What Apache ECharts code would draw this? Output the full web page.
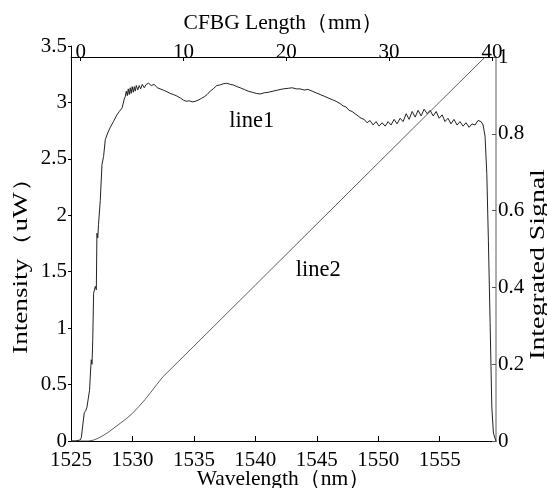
<!DOCTYPE html>
<html>
<head>
<meta charset="utf-8">
<script src="https://cdn.jsdelivr.net/npm/echarts@6/dist/echarts.min.js"></script>
<style>html,body{margin:0;padding:0;background:#fff;}#c{width:547px;height:488px;}</style>
</head>
<body>
<div id="c"></div>
<script>
// Wavelength (nm) and intensity (uW) of line1
var line1Wavelength = [1525.00,1525.35,1525.76,1525.84,1525.98,1526.08,1526.20,1526.30,1526.41,1526.51,1526.59,1526.65,1526.71,1526.77,1526.84,1526.98,1527.06,1527.11,1527.18,1527.24,1527.38,1527.52,1527.65,1527.79,1527.99,1528.20,1528.45,1528.74,1528.93,1529.15,1529.25,1529.33,1529.41,1529.50,1529.58,1529.66,1529.74,1529.82,1529.90,1529.98,1530.07,1530.15,1530.23,1530.31,1530.43,1530.55,1530.67,1530.80,1530.96,1531.12,1531.31,1531.53,1531.77,1532.02,1532.26,1532.50,1532.80,1533.07,1533.32,1533.56,1533.89,1534.15,1534.37,1534.62,1534.86,1535.11,1535.35,1535.60,1535.84,1536.08,1536.33,1536.57,1536.87,1537.14,1537.38,1537.68,1537.95,1538.20,1538.50,1538.76,1539.09,1539.41,1539.74,1540.07,1540.39,1540.72,1541.04,1541.45,1541.85,1542.26,1542.67,1542.99,1543.32,1543.64,1543.97,1544.29,1544.62,1544.94,1545.27,1545.60,1545.92,1546.25,1546.57,1546.89,1547.13,1547.38,1547.62,1547.87,1548.11,1548.36,1548.60,1548.85,1549.09,1549.33,1549.58,1549.82,1550.07,1550.31,1550.56,1550.80,1551.04,1551.29,1551.53,1551.78,1552.02,1552.27,1552.51,1552.76,1553.00,1553.24,1553.49,1553.73,1553.98,1554.22,1554.47,1554.71,1554.96,1555.20,1555.43,1555.67,1555.92,1556.16,1556.41,1556.65,1556.90,1557.14,1557.39,1557.63,1557.87,1558.12,1558.37,1558.53,1558.69,1558.83,1558.96,1559.10,1559.24,1559.37,1559.51,1559.58];
var line1Intensity = [0,0,0.01,0.03,0.16,0.25,0.27,0.30,0.38,0.45,0.62,0.72,0.68,0.90,1.31,1.37,1.34,1.84,1.80,1.92,2.13,2.45,2.52,2.67,2.73,2.78,2.83,2.89,2.92,2.95,2.99,3.03,3.05,3.10,3.06,3.12,3.07,3.13,3.08,3.14,3.09,3.14,3.10,3.15,3.11,3.15,3.12,3.16,3.13,3.16,3.17,3.15,3.16,3.13,3.12,3.11,3.095,3.08,3.07,3.06,3.04,3.02,3.01,3.015,3.005,3.01,3.02,3.035,3.05,3.07,3.10,3.12,3.15,3.155,3.165,3.17,3.16,3.155,3.14,3.13,3.115,3.10,3.09,3.08,3.075,3.085,3.09,3.10,3.11,3.12,3.125,3.13,3.12,3.12,3.11,3.115,3.10,3.085,3.07,3.055,3.04,3.025,3.01,2.99,2.97,2.96,2.93,2.92,2.90,2.88,2.86,2.85,2.82,2.84,2.80,2.83,2.79,2.82,2.79,2.83,2.80,2.85,2.81,2.86,2.83,2.90,2.85,2.92,2.87,2.93,2.88,2.94,2.90,2.93,2.88,2.92,2.86,2.89,2.83,2.86,2.81,2.85,2.80,2.83,2.79,2.82,2.78,2.81,2.80,2.84,2.83,2.80,2.70,2.37,1.78,1.05,0.30,0.07,0.02,0];

// Wavelength (nm) and integrated signal of line2
var line2Wavelength = [1525.0,1526.4,1526.8,1527.2,1527.6,1528.0,1528.5,1529.0,1529.5,1530.0,1530.5,1531.0,1531.5,1532.0,1532.5,1535.0,1540.0,1545.0,1550.0,1555.0,1558.7];
var line2Signal = [0,0,0.002,0.007,0.014,0.022,0.034,0.046,0.058,0.072,0.089,0.107,0.127,0.148,0.168,0.247,0.406,0.565,0.724,0.883,1.0];

// Axis ticks
var wavelengthTicks = [1525,1530,1535,1540,1545,1550,1555];
var lengthTicks = [0,10,20,30,40];

// Annotations [x, y]
var line1LabelPos = [1539.70, 2.835];
var line2LabelPos = [1545.11, 0.444];

function zip(a, b) { var r = []; for (var i = 0; i < a.length; i++) r.push([a[i], b[i]]); return r; }
function plain(v) { return String(v); }

var FONT = '"Liberation Serif","Times New Roman",serif';
var chart = echarts.init(document.getElementById('c'), null, {renderer: 'canvas'});
var lbl = {color: '#000', fontFamily: FONT, fontSize: 21, formatter: plain};

chart.setOption({
  animation: false,
  backgroundColor: '#fff',
  grid: [
    {left: 71, right: 51, top: 46, bottom: 47, containLabel: false, outerBoundsMode: 'none'},
    {left: 71, right: 51, top: 57, bottom: 47, containLabel: false, outerBoundsMode: 'none'}
  ],
  graphic: [
    {type: 'text', x: 22, y: 259.5, rotation: Math.PI / 2, scaleX: 1.36,
     style: {text: 'Intensity（uW）', font: '20px "Liberation Serif", serif', fill: '#000', align: 'center', verticalAlign: 'middle'}},
    {type: 'text', x: 538.5, y: 264.5, rotation: Math.PI / 2, scaleX: 1.39,
     style: {text: 'Integrated Signal', font: '20px "Liberation Serif", serif', fill: '#000', align: 'center', verticalAlign: 'middle'}}
  ],
  xAxis: [
    {
      type: 'value', gridIndex: 0, position: 'bottom', min: 1525, max: 1559.58,
      name: 'Wavelength（nm）', nameLocation: 'middle', nameGap: 27, nameMoveOverlap: false,
      nameTextStyle: {color: '#000', fontFamily: FONT, fontSize: 21.5},
      axisLine: {onZero: false, lineStyle: {color: '#000', width: 1}},
      axisTick: {inside: true, length: 5, lineStyle: {color: '#000'}, customValues: wavelengthTicks},
      axisLabel: Object.assign({margin: 9, customValues: wavelengthTicks}, lbl),
      splitLine: {show: false}
    },
    {
      type: 'value', gridIndex: 1, position: 'top', min: -0.94, max: 40.4,
      name: 'CFBG Length（mm）', nameLocation: 'middle', nameGap: 23, nameMoveOverlap: false,
      nameTextStyle: {color: '#000', fontFamily: FONT, fontSize: 21.5},
      axisLine: {onZero: false, lineStyle: {color: '#000', width: 1}},
      axisTick: {inside: true, length: 4, lineStyle: {color: '#000'}, customValues: lengthTicks},
      axisLabel: Object.assign({margin: -6, customValues: lengthTicks}, lbl),
      splitLine: {show: false}
    },
    {
      type: 'value', gridIndex: 1, position: 'bottom', min: 1525, max: 1559.58, show: false,
      axisLine: {onZero: false}
    }
  ],
  yAxis: [
    {
      type: 'value', gridIndex: 0, position: 'left', min: 0, max: 3.5, interval: 0.5,
      axisLine: {show: true, onZero: false, lineStyle: {color: '#000', width: 1}},
      axisTick: {show: true, inside: false, length: 3, lineStyle: {color: '#000'}},
      axisLabel: Object.assign({margin: 4}, lbl),
      splitLine: {show: false}
    },
    {
      type: 'value', gridIndex: 1, position: 'right', min: 0, max: 1, interval: 0.2,
      axisLine: {show: true, onZero: false, lineStyle: {color: '#9a9a9a', width: 1.6}},
      axisTick: {show: true, inside: true, length: 4, lineStyle: {color: '#555'}},
      axisLabel: Object.assign({margin: 2}, lbl),
      splitLine: {show: false}
    }
  ],
  series: [
    {
      name: 'line1', type: 'line', xAxisIndex: 0, yAxisIndex: 0,
      data: zip(line1Wavelength, line1Intensity),
      showSymbol: false, symbol: 'none',
      lineStyle: {color: '#222', width: 1},
      markPoint: {
        symbol: 'circle', symbolSize: 1, itemStyle: {color: 'rgba(0,0,0,0)'},
        label: {show: true, position: 'inside', formatter: 'line1', color: '#000', fontFamily: FONT, fontSize: 22.5},
        data: [{coord: line1LabelPos}]
      }
    },
    {
      name: 'line2', type: 'line', xAxisIndex: 2, yAxisIndex: 1,
      data: zip(line2Wavelength, line2Signal),
      showSymbol: false, symbol: 'none', smooth: false,
      lineStyle: {color: '#333', width: 0.8},
      markPoint: {
        symbol: 'circle', symbolSize: 1, itemStyle: {color: 'rgba(0,0,0,0)'},
        label: {show: true, position: 'inside', formatter: 'line2', color: '#000', fontFamily: FONT, fontSize: 22.5},
        data: [{coord: line2LabelPos}]
      }
    }
  ]
});
</script>
</body>
</html>
